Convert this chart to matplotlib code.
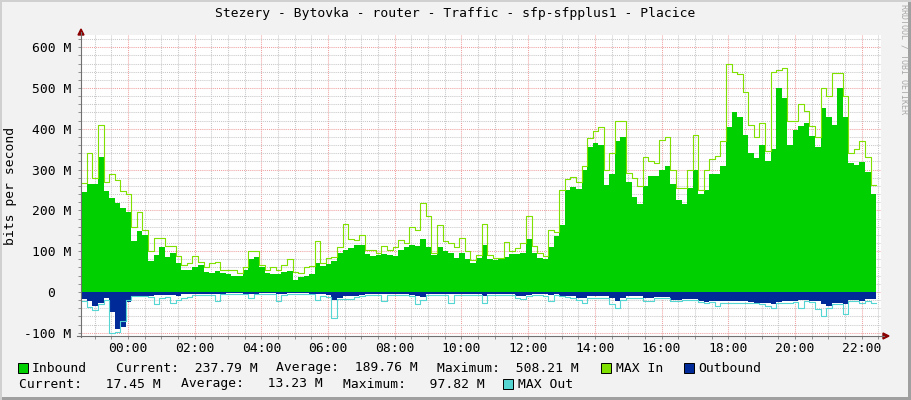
import numpy as np
import matplotlib
matplotlib.use("Agg")
import matplotlib.pyplot as plt
from matplotlib.lines import Line2D
from matplotlib.patches import Rectangle, Polygon

# ---------------- data (Mbit/s, 10-minute bins, hours relative to 00:00) ----------------
t_start = -1.4
bin_hours = 1.0 / 6.0

inbound = [
    245, 265, 265, 330, 248, 230, 218, 205, 195, 125,
    150, 140, 75, 90, 110, 85, 95, 70, 55, 54,
    62, 65, 50, 46, 52, 46, 43, 40, 40,
    55, 80, 85, 62, 47, 45, 45, 50, 52, 30,
    36, 40, 45, 72, 63, 68, 75, 95, 104, 108,
    114, 116, 92, 88, 90, 92, 90, 88, 102,
    110, 115, 112, 130, 110, 90, 110, 100, 95, 83,
    95, 80, 71, 83, 115, 82, 79, 80, 86, 93,
    92, 96, 130, 96, 84, 80, 110, 138,
    165, 250, 258, 253, 300, 355, 366, 360, 262, 290,
    370, 380, 270, 234, 215, 260, 285, 285, 300, 310,
    265, 225, 215, 255, 300, 240, 250, 288, 290,
    310, 405, 440, 430, 385, 340, 328, 360, 320, 350,
    500, 475, 361, 398, 406, 415, 382, 355, 450, 430,
    410, 500, 430, 316, 312, 318, 295, 240,
]

max_in = [
    266, 340, 280, 410, 270, 290, 275, 248, 240, 160,
    197, 152, 100, 132, 132, 113, 113, 87, 65, 72,
    87, 74, 60, 72, 74, 55, 54, 54, 46,
    60, 100, 100, 65, 55, 60, 55, 67, 80, 50,
    47, 60, 63, 124, 70, 83, 85, 110, 167, 130,
    128, 140, 104, 104, 95, 112, 104, 110, 128,
    120, 159, 153, 218, 185, 95, 163, 124, 120, 110,
    132, 100, 79, 90, 167, 90, 83, 83, 122, 100,
    108, 120, 185, 112, 96, 87, 153, 148,
    250, 277, 283, 270, 310, 377, 395, 404, 300, 340,
    420, 420, 292, 280, 260, 330, 320, 316, 373, 380,
    300, 255, 255, 300, 386, 250, 300, 325, 333,
    370, 560, 540, 535, 490, 410, 380, 414, 345, 540,
    545, 549, 420, 418, 460, 443, 408, 380, 500, 480,
    537, 537, 480, 340, 350, 370, 330, 262,
]

outbound = [
    18, 22, 35, 27, 15, 50, 90, 85, 25, 9,
    9, 9, 10, 8, 7, 7, 8, 10, 5, 4,
    5, 4, 4, 4, 4, 4, 3, 3, 3,
    4, 6, 4, 3, 3, 3, 5, 6, 3, 3,
    3, 3, 4, 4, 5, 8, 20, 15, 10, 10,
    10, 8, 5, 5, 5, 5, 5, 4, 4,
    5, 8, 11, 12, 6, 5, 5, 5, 6, 5,
    6, 5, 5, 5, 10, 5, 5, 5, 5, 6,
    10, 11, 8, 5, 6, 5, 8, 6,
    9, 10, 11, 15, 14, 9, 9, 9, 10, 15,
    23, 15, 11, 11, 11, 15, 15, 12, 12, 12,
    20, 20, 18, 17, 17, 22, 25, 23, 23,
    22, 22, 23, 23, 23, 24, 26, 28, 27, 30,
    24, 23, 23, 22, 19, 19, 22, 23, 30, 35,
    27, 27, 30, 19, 19, 22, 18, 17,
]

max_out = [
    22, 38, 45, 30, 20, 100, 98, 70, 20, 10,
    10, 10, 13, 30, 15, 12, 27, 20, 15, 12,
    8, 7, 7, 7, 22, 5, 5, 5, 5,
    6, 15, 6, 5, 5, 5, 23, 8, 5, 5,
    5, 6, 5, 19, 10, 12, 64, 18, 17, 17,
    12, 11, 7, 7, 7, 23, 7, 7, 7,
    7, 10, 30, 20, 8, 7, 7, 7, 27, 7,
    7, 7, 7, 7, 27, 7, 7, 7, 8, 8,
    15, 17, 10, 7, 8, 10, 21, 8,
    11, 13, 14, 20, 27, 15, 15, 15, 15, 30,
    39, 19, 15, 15, 15, 23, 23, 15, 15, 15,
    23, 22, 20, 19, 20, 24, 27, 25, 35,
    27, 27, 27, 27, 27, 27, 28, 30, 35, 39,
    27, 27, 27, 25, 39, 23, 25, 43, 60, 40,
    30, 30, 55, 22, 22, 26, 22, 28,
]

y_ticks = [-100, 0, 100, 200, 300, 400, 500, 600]
x_tick_hours = [0, 2, 4, 6, 8, 10, 12, 14, 16, 18, 20, 22]
x_tick_labels = ["00:00", "02:00", "04:00", "06:00", "08:00", "10:00",
                 "12:00", "14:00", "16:00", "18:00", "20:00", "22:00"]

title = "Stezery - Bytovka - router - Traffic - sfp-sfpplus1 - Placice"
y_title = "bits per second"
legend_row1 = [("Inbound", 32), ("Current:  237.79 M", 116), ("Average:  189.76 M", 276),
               ("Maximum:  508.21 M", 437), ("MAX In", 616), ("Outbound", 698)]
legend_row2 = [("Current:   17.45 M", 19), ("Average:   13.23 M", 181),
               ("Maximum:   97.82 M", 343), ("MAX Out", 518)]

# ---------------- styling ----------------
W, H = 911, 400
MONO = "DejaVu Sans Mono"
FS = 9.4
C_IN, C_MAXIN, C_OUT, C_MAXOUT = "#00CF00", "#80E000", "#002A97", "#55D6D3"

def fx(x):
    return x / W

def fy(y):
    return 1 - y / H

fig = plt.figure(figsize=(W / 100, H / 100), dpi=100, facecolor="#F2F2F2")
ax = fig.add_axes([fx(81), fy(336), 800 / W, (336 - 35) / H])
ax.set_facecolor("white")

n = len(inbound)
edges = t_start + np.arange(n + 1) * bin_hours

def ext(a):
    a = np.asarray(a, dtype=float)
    return np.append(a, a[-1])

ax.fill_between(edges, 0, ext(inbound), step="post", color=C_IN, lw=0, zorder=2)
ax.step(edges, ext(max_in), where="post", color=C_MAXIN, lw=0.8, zorder=3)
ax.fill_between(edges, 0, -ext(outbound), step="post", color=C_OUT, lw=0, zorder=2)
ax.step(edges, -ext(max_out), where="post", color=C_MAXOUT, lw=0.8, zorder=3)

ax.set_xlim(-1.41, 22.58)
ax.set_ylim(-108, 630)

ax.set_xticks(x_tick_hours)
ax.set_xticklabels(x_tick_labels)
ax.set_xticks(np.arange(-1.0, 22.6, 0.5), minor=True)
ax.set_yticks(y_ticks)
ax.set_yticklabels([("%d M" % v) if v != 0 else "0  " for v in y_ticks])
ax.set_yticks(np.arange(-100, 621, 20), minor=True)

ax.set_axisbelow(True)
ax.grid(which="minor", color="#C8C8C8", lw=0.75, ls=(0, (1, 1)))
ax.grid(which="major", color="#F0A0A0", lw=0.75, ls=(0, (1, 1)))

for s in ax.spines.values():
    s.set_visible(False)

ax.tick_params(which="both", direction="out", length=2.5, width=0.7, color="#909090")
ax.tick_params(axis="y", pad=4.3)
ax.tick_params(axis="x", pad=1.5)
for lab in ax.get_xticklabels() + ax.get_yticklabels():
    lab.set_fontfamily(MONO)
    lab.set_fontsize(FS)
    lab.set_color("#000000")

# axes lines with arrows
fig.add_artist(Line2D([fx(81), fx(81)], [fy(337), fy(32)], color="#707070", lw=0.8,
                      transform=fig.transFigure))
fig.add_artist(Line2D([fx(77), fx(884)], [fy(336), fy(336)], color="#707070", lw=0.8,
                      transform=fig.transFigure))
fig.add_artist(Polygon([[fx(78), fy(35)], [fx(84), fy(35)], [fx(81), fy(29)]],
                       closed=True, color="#8B0000", transform=fig.transFigure))
fig.add_artist(Polygon([[fx(883), fy(333)], [fx(883), fy(339)], [fx(889), fy(336)]],
                       closed=True, color="#8B0000", transform=fig.transFigure))

# texts
fig.text(fx(455), fy(14), title, ha="center", va="center", family=MONO, fontsize=FS)
fig.text(fx(11), fy(186), y_title, rotation=90, ha="center", va="center",
         family=MONO, fontsize=FS)
fig.text(fx(904), fy(4), "RRDTOOL / TOBI OETIKER", rotation=270, ha="center", va="top",
         family=MONO, fontsize=6.0, color="#A8A8A8")

for txt, x in legend_row1:
    fig.text(fx(x), fy(368), txt, ha="left", va="center", family=MONO, fontsize=FS)
for txt, x in legend_row2:
    fig.text(fx(x), fy(384), txt, ha="left", va="center", family=MONO, fontsize=FS)

def legend_box(x, y, color):
    fig.add_artist(Rectangle((fx(x), fy(y + 5)), 10 / W, 10 / H, facecolor=color,
                             edgecolor="black", lw=0.7, transform=fig.transFigure))

legend_box(18, 368, C_IN)
legend_box(601, 368, C_MAXIN)
legend_box(684, 368, C_OUT)
legend_box(503, 384, C_MAXOUT)

# frame shading
fig.add_artist(Rectangle((0, fy(400)), 1, 3 / H, facecolor="#A0A0A0", edgecolor="none",
                         transform=fig.transFigure))
fig.add_artist(Rectangle((fx(908), 0), 3 / W, 1, facecolor="#A0A0A0", edgecolor="none",
                         transform=fig.transFigure))
fig.add_artist(Rectangle((0, fy(2)), 1, 2 / H, facecolor="#D0D0D0", edgecolor="none",
                         transform=fig.transFigure))
fig.add_artist(Rectangle((0, 0), 2 / W, 1, facecolor="#D0D0D0", edgecolor="none",
                         transform=fig.transFigure))

fig.savefig("out.png", dpi=100, facecolor=fig.get_facecolor())
